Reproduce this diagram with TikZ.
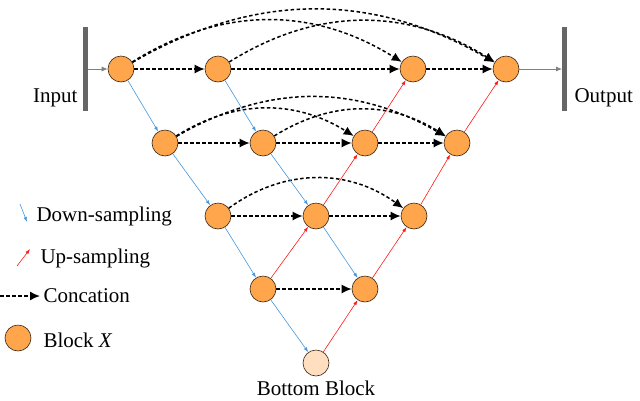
\documentclass[tikz,border=0pt]{standalone}
\usepackage{fontspec}
\setmainfont{Liberation Serif}
\usetikzlibrary{arrows.meta}
\begin{document}
\begin{tikzpicture}[x=1pt,y=-1pt,
  blk/.style={circle,draw=black!70!brown,fill=orange!70!white,minimum size=26pt,inner sep=0pt,line width=0.6pt},
  bot/.style={blk,fill=orange!25!white},
  cat/.style={line width=1.5pt,dash pattern=on 3.5pt off 2.5pt,-{Latex[length=10pt,width=9pt]}},
  dn/.style={draw={rgb,255:red,70;green,150;blue,220},line width=0.6pt,-{Latex[length=5pt,width=3.5pt]}},
  up/.style={draw=red!90!white,line width=0.6pt,-{Latex[length=5pt,width=3.5pt]}},
  lbl/.style={font=\fontsize{21}{21}\selectfont}]
\useasboundingbox (0,0) rectangle (640,400);
\fill[gray!80!black] (83,27) rectangle (88,111);
\fill[gray!80!black] (562,27) rectangle (567,111);
\coordinate (inb) at (88,69);
\coordinate (outb) at (562,69);
\node[lbl,anchor=east] (lin) at (81,98) {Input};
\node[lbl,anchor=west] (lout) at (571,98) {Output};
\node[blk] (x00) at (121,69) {};
\node[blk] (x01) at (218,69) {};
\node[blk] (x02) at (413,69) {};
\node[blk] (x03) at (506,69) {};
\node[blk] (x10) at (165,143) {};
\node[blk] (x11) at (263,143) {};
\node[blk] (x12) at (365,143) {};
\node[blk] (x13) at (457,143) {};
\node[blk] (x20) at (218,216) {};
\node[blk] (x21) at (316,216) {};
\node[blk] (x22) at (414,216) {};
\node[blk] (x30) at (263,289) {};
\node[blk] (x31) at (365,289) {};
\node[bot] (x40) at (316,363) {};
\node[lbl] (lbot) at (316,388) {Bottom Block};
\draw[gray,line width=0.8pt,-{Latex[length=6pt,width=5pt]}] (inb) -- (x00);
\draw[gray,line width=0.8pt,-{Latex[length=6pt,width=5pt]}] (x03) -- (outb);
% concat
\draw[cat] (x00)--(x01); \draw[cat] (x01)--(x02); \draw[cat] (x02)--(x03);
\draw[cat] (x10)--(x11); \draw[cat] (x11)--(x12); \draw[cat] (x12)--(x13);
\draw[cat] (x20)--(x21); \draw[cat] (x21)--(x22);
\draw[cat] (x30)--(x31);
\draw[cat] (x00) to[bend left=32] (x02);
\draw[cat] (x00) to[bend left=30] (x03);
\draw[cat] (x01) to[bend left=32] (x03);
\draw[cat] (x10) to[bend left=32] (x12);
\draw[cat] (x10) to[bend left=30] (x13);
\draw[cat] (x11) to[bend left=32] (x13);
\draw[cat] (x20) to[bend left=36] (x22);
% down
\draw[dn] (x00)--(x10); \draw[dn] (x10)--(x20); \draw[dn] (x20)--(x30); \draw[dn] (x30)--(x40);
\draw[dn] (x01)--(x11); \draw[dn] (x11)--(x21); \draw[dn] (x21)--(x31);
% up
\draw[up] (x40)--(x31); \draw[up] (x31)--(x22); \draw[up] (x22)--(x13); \draw[up] (x13)--(x03);
\draw[up] (x30)--(x21); \draw[up] (x21)--(x12); \draw[up] (x12)--(x02);
% legend
\coordinate (d1) at (20,204); \coordinate (d2) at (27,222);
\draw[dn] (d1)--(d2);
\node[lbl,anchor=west] (t1) at (33,216) {Down-sampling};
\coordinate (u1) at (17,266); \coordinate (u2) at (30,249);
\draw[up] (u1)--(u2);
\node[lbl,anchor=west] (t2) at (37,258) {Up-sampling};
\coordinate (c1) at (0,296); \coordinate (c2) at (40,296);
\draw[cat] (c1)--(c2);
\node[lbl,anchor=west] (t3) at (40,296) {Concation};
\node[blk] (lb) at (18,338) {};
\node[lbl,anchor=west] (t4) at (40,340) {Block \textit{X}};
\end{tikzpicture}
\end{document}
